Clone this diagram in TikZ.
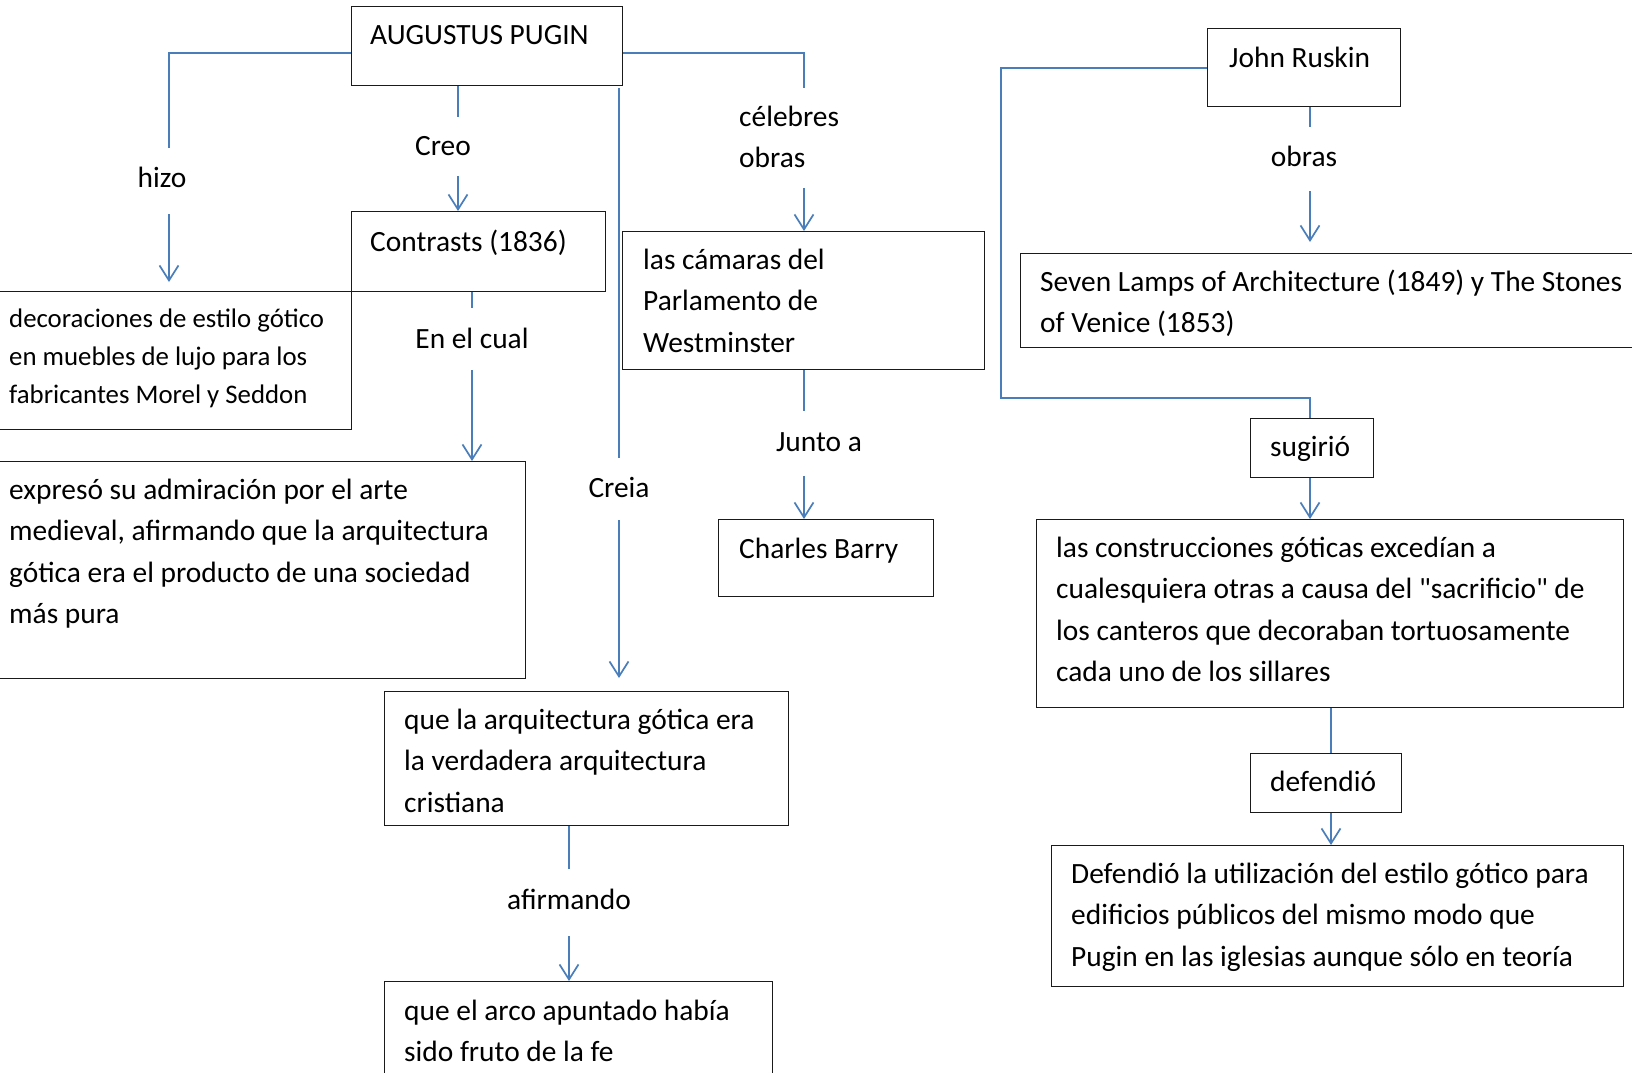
\documentclass[tikz,border=0pt]{standalone}
\usepackage{fontspec}
\setmainfont{Carlito}
\newfontfamily\qfont{Carlito}[Ligatures=TeXOff]
\usetikzlibrary{arrows.meta}
\definecolor{linec}{HTML}{4A7EBB}
\definecolor{boxc}{HTML}{1A1A1A}
\begin{document}
\begin{tikzpicture}[x=1pt,y=-1pt,
  box/.style={draw=boxc, line width=1.3pt, anchor=north west, inner sep=0pt, rectangle},
  txt/.style={anchor=north west, inner sep=0pt, align=left, font=\fontsize{29.4}{41.5}\selectfont},
  txtsmall/.style={txt, font=\fontsize{26.8}{37.8}\selectfont},
  lbl/.style={anchor=base, inner sep=0pt, font=\fontsize{29.4}{41.5}\selectfont},
  conn/.style={draw=linec, line width=1.7pt},
  arr/.style={conn, -{Straight Barb[length=15pt,width=19pt,line width=1.7pt]}}
]
\useasboundingbox (0,0) rectangle (1632,1072);
\clip (0,0) rectangle (1632,1072);
\fill[white] (0,0) rectangle (1632,1072);

% boxes
\node[box, minimum width=271pt, minimum height=79pt] (pugin) at (351,6) {};
\node[box, minimum width=254pt, minimum height=80pt] (contrasts) at (351,211) {};
\node[box, minimum width=356pt, minimum height=138pt] (decor) at (-5,291) {};
\node[box, minimum width=362pt, minimum height=138pt] (camaras) at (622,231) {};
\node[box, minimum width=215pt, minimum height=77pt] (barry) at (718,519) {};
\node[box, minimum width=530pt, minimum height=217pt] (expres) at (-5,461) {};
\node[box, minimum width=404pt, minimum height=134pt] (quela) at (384,691) {};
\node[box, minimum width=388pt, minimum height=130pt] (arco) at (384,981) {};
\node[box, minimum width=193pt, minimum height=78pt] (ruskin) at (1207,28) {};
\node[box, minimum width=640pt, minimum height=94pt] (seven) at (1020,253) {};
\node[box, minimum width=123pt, minimum height=59pt] (sugirio) at (1250,418) {};
\node[box, minimum width=587pt, minimum height=188pt] (constr) at (1036,519) {};
\node[box, minimum width=151pt, minimum height=59pt] (defendio) at (1250,753) {};
\node[box, minimum width=572pt, minimum height=141pt] (defii) at (1051,845) {};

% box texts
\node[txt] (pugin-t) at (370,15) {\strut AUGUSTUS PUGIN};
\node[txt] (contrasts-t) at (370,222) {\strut Contrasts (1836)};
\node[txtsmall] (decor-t) at (9,301) {\strut decoraciones de estilo gótico\\en muebles de lujo para los\\fabricantes Morel y Seddon};
\node[txt] (camaras-t) at (643,240) {\strut las cámaras del\\Parlamento de\\Westminster};
\node[txt] (barry-t) at (739,529) {\strut Charles Barry};
\node[txt] (expres-t) at (9,470) {\strut expresó su admiración por el arte\\medieval, afirmando que la arquitectura\\gótica era el producto de una sociedad\\más pura};
\node[txt] (quela-t) at (404,700) {\strut que la arquitectura gótica era\\la verdadera arquitectura\\cristiana};
\node[txt] (arco-t) at (404,991) {\strut que el arco apuntado había\\sido fruto de la fe};
\node[txt] (ruskin-t) at (1229,38) {\strut John Ruskin};
\node[txt] (seven-t) at (1040,262) {\strut Seven Lamps of Architecture (1849) y The Stones\\of Venice (1853)};
\node[txt] (sugirio-t) at (1270,427) {\strut sugirió};
\node[txt] (constr-t) at (1056,528) {\strut las construcciones góticas excedían a\\cualesquiera otras a causa del {\qfont"}sacrificio{\qfont"} de\\los canteros que decoraban tortuosamente\\cada uno de los sillares};
\node[txt] (defendio-t) at (1270,762) {\strut defendió};
\node[txt] (defii-t) at (1071,854) {\strut Defendió la utilización del estilo gótico para\\edificios públicos del mismo modo que\\Pugin en las iglesias aunque sólo en teoría};

% connector labels
\node[lbl] (hizo) at (162,187) {hizo};
\node[lbl] (creo) at (443,155) {Creo};
\node[txt] (celebres) at (739,97) {\strut célebres\\obras};
\node[lbl] (encual) at (472,348) {En el cual};
\node[lbl] (creia) at (619,497) {Creia};
\node[lbl] (junto) at (819,451) {Junto a};
\node[lbl] (afirm) at (569,909) {afirmando};
\node[lbl] (obras) at (1304,166) {obras};

% connector coordinates
\coordinate (hA) at (169,148); \coordinate (hB) at (169,214);
\coordinate (cA) at (458,117); \coordinate (cB) at (458,176);
\coordinate (kA) at (804,88);  \coordinate (kB) at (804,188);
\coordinate (eA) at (472,308); \coordinate (eB) at (472,370);
\coordinate (crA) at (619,458); \coordinate (crB) at (619,520);
\coordinate (jA) at (804,411); \coordinate (jB) at (804,476);
\coordinate (aA) at (569,869); \coordinate (aB) at (569,936);
\coordinate (oA) at (1310,127); \coordinate (oB) at (1310,191);
\coordinate (rk) at (1001,398);
\coordinate (dX) at (1331,0);

% connectors
\draw[conn] ([yshift=-6.5pt]pugin.west) -| (hA);
\draw[arr, shorten >=9pt] (hB) -- (hB |- decor.north);
\draw[conn] (pugin.south -| cA) -- (cA);
\draw[arr] (cB) -- (cB |- contrasts.north);
\draw[conn] ([yshift=-6.5pt]pugin.east) -| (kA);
\draw[arr] (kB) -- (kB |- camaras.north);
\draw[conn] (contrasts.south -| eA) -- (eA);
\draw[arr] (eB) -- (eB |- expres.north);
\draw[conn] ([yshift=-2pt]pugin.south -| crA) -- (crA);
\draw[arr, shorten >=13pt] (crB) -- (crB |- quela.north);
\draw[conn] (camaras.south -| jA) -- (jA);
\draw[arr] (jB) -- (jB |- barry.north);
\draw[conn] (quela.south -| aA) -- (aA);
\draw[arr] (aB) -- (aB |- arco.north);
\draw[conn] (ruskin.south -| oA) -- (oA);
\draw[arr, shorten >=11pt] (oB) -- (oB |- seven.north);
\draw[conn] (ruskin.west) -| (rk) -| (oA |- sugirio.north);
\draw[arr] (oA |- sugirio.south) -- (oA |- constr.north);
\draw[conn] (dX |- constr.south) -- (dX |- defendio.north);
\draw[arr] (dX |- defendio.south) -- (dX |- defii.north);
\end{tikzpicture}
\end{document}
